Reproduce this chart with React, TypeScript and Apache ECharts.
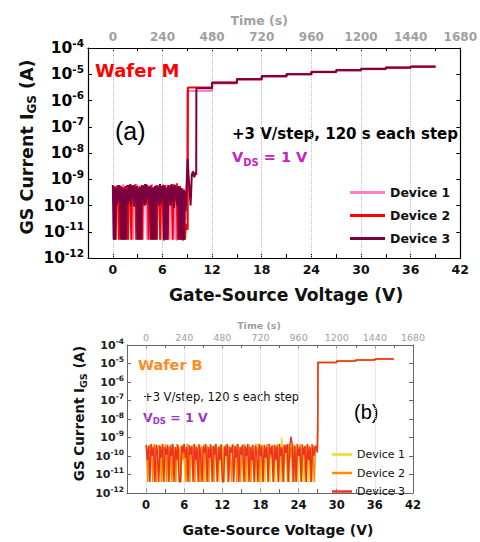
import React, { useEffect, useRef } from 'react';
import * as echarts from 'echarts';

const FONT = '"DejaVu Sans", "Liberation Sans", sans-serif';

// ---------------- Panel (a): Wafer M ----------------
const noiseVM = [
  0, 0.1, 0.2, 0.3, 0.4, 0.5, 0.6, 0.7, 0.8, 0.9,
  1, 1.1, 1.2, 1.3, 1.4, 1.5, 1.6, 1.7, 1.8, 1.9,
  2, 2.1, 2.2, 2.3, 2.4, 2.5, 2.6, 2.7, 2.8, 2.9,
  3, 3.1, 3.2, 3.3, 3.4, 3.5, 3.6, 3.7, 3.8, 3.9,
  4, 4.1, 4.2, 4.3, 4.4, 4.5, 4.6, 4.7, 4.8, 4.9,
  5, 5.1, 5.2, 5.3, 5.4, 5.5, 5.6, 5.7, 5.8, 5.9,
  6, 6.1, 6.2, 6.3, 6.4, 6.5, 6.6, 6.7, 6.8, 6.9,
  7, 7.1, 7.2, 7.3, 7.4, 7.5, 7.6, 7.7, 7.8, 7.9,
  8, 8.1, 8.2, 8.3, 8.4, 8.5, 8.6, 8.7, 8.8,
];
// sampling offset of each device's record (V)
const m1Shift = 0.05;
const m2Shift = 0.03;
const m3Shift = 0;
// noise currents in pA
const m1NoisePA = [
  500, 200, 400, 100, 600, 150, 450, 5, 550, 200,
  400, 120, 650, 5, 450, 200, 550, 100, 5, 600,
  200, 450, 150, 550, 5, 600, 200, 500, 120, 650,
  5, 500, 200, 450, 150, 600, 5, 550, 200, 500,
  150, 5, 600, 200, 500, 100, 5, 650, 150, 500,
  200, 550, 5, 450, 150, 600, 200, 5, 500, 150,
  650, 100, 550, 5, 450, 200, 600, 150, 5, 500,
  150, 550, 200, 5, 500, 100, 5, 5, 450, 150,
  500, 5, 400, 100, 5, 450, 150, 300, 200,
];
const m2NoisePA = [
  450, 150, 550, 5, 400, 100, 600, 5, 500, 150,
  550, 5, 450, 100, 5, 500, 150, 600, 5, 450,
  100, 550, 5, 600, 150, 500, 100, 650, 5, 500,
  150, 5, 550, 100, 450, 5, 600, 150, 500, 100,
  650, 120, 500, 5, 550, 150, 600, 100, 5, 450,
  200, 550, 100, 5, 500, 150, 600, 5, 450, 100,
  550, 5, 5, 600, 150, 500, 5, 450, 100, 600,
  150, 500, 5, 650, 100, 550, 150, 700, 5, 500,
  120, 550, 5, 450, 5, 5, 400, 5, 20,
];
const m3NoisePA = [
  600, 5, 450, 5, 500, 120, 550, 150, 600, 100,
  5, 500, 5, 450, 5, 550, 5, 400, 120, 600,
  150, 650, 100, 550, 200, 600, 90, 500, 150, 550,
  5, 450, 5, 500, 5, 600, 150, 550, 100, 650,
  120, 600, 200, 500, 100, 550, 5, 450, 5, 500,
  5, 550, 5, 600, 150, 500, 100, 650, 120, 550,
  200, 600, 5, 500, 5, 450, 5, 600, 150, 500,
  100, 650, 150, 550, 80, 600, 200, 500, 100, 550,
  5, 500, 5, 450, 5, 400, 5, 350, 60,
];
const m1TransV = [8.95];
const m1TransA = [3e-11];
const m1JumpV = 9.0;
const m1Levels = [2.3e-6, 4.4e-6, 6.2e-6, 8.0e-6, 9.8e-6, 1.2e-5, 1.4e-5, 1.55e-5, 1.75e-5, 1.9e-5];
const m2TransV = [8.95, 9.05];
const m2TransA = [1.5e-11, 1.2e-11];
const m2JumpV = 9.08;
const m2Levels = [3.1e-6, 4.8e-6, 6.6e-6, 8.4e-6, 1.02e-5, 1.25e-5, 1.45e-5, 1.6e-5, 1.78e-5, 1.95e-5];
const m3TransV = [8.95, 9.05, 9.15, 9.3, 9.4, 9.55, 9.7, 9.85, 10.0, 10.08];
const m3TransA = [1.2e-9, 6e-9, 1.5e-9, 3e-10, 1e-10, 1.5e-9, 2e-9, 1.2e-9, 1.8e-9, 1.5e-9];
const m3JumpV = 10.1;
const m3Levels = [2.9e-6, 4.7e-6, 6.5e-6, 8.5e-6, 1.0e-5, 1.23e-5, 1.43e-5, 1.62e-5, 1.8e-5, 1.97e-5];
const stepStartsM = [12, 15, 18, 21, 24, 27, 30, 33, 36];
const endVM = 39;

// ---------------- Panel (b): Wafer B ----------------
const noiseVB = [
  0, 0.2, 0.4, 0.6, 0.8, 1, 1.2, 1.4, 1.6, 1.8,
  2, 2.2, 2.4, 2.6, 2.8, 3, 3.2, 3.4, 3.6, 3.8,
  4, 4.2, 4.4, 4.6, 4.8, 5, 5.2, 5.4, 5.6, 5.8,
  6, 6.2, 6.4, 6.6, 6.8, 7, 7.2, 7.4, 7.6, 7.8,
  8, 8.2, 8.4, 8.6, 8.8, 9, 9.2, 9.4, 9.6, 9.8,
  10, 10.2, 10.4, 10.6, 10.8, 11, 11.2, 11.4, 11.6, 11.8,
  12, 12.2, 12.4, 12.6, 12.8, 13, 13.2, 13.4, 13.6, 13.8,
  14, 14.2, 14.4, 14.6, 14.8, 15, 15.2, 15.4, 15.6, 15.8,
  16, 16.2, 16.4, 16.6, 16.8, 17, 17.2, 17.4, 17.6, 17.8,
  18, 18.2, 18.4, 18.6, 18.8, 19, 19.2, 19.4, 19.6, 19.8,
  20, 20.2, 20.4, 20.6, 20.8, 21, 21.2, 21.4, 21.6, 21.8,
  22, 22.2, 22.4, 22.6, 22.8, 23, 23.2, 23.4, 23.6, 23.8,
  24, 24.2, 24.4, 24.6, 24.8, 25, 25.2, 25.4, 25.6, 25.8,
  26, 26.2, 26.4, 26.6, 26.8,
];
const b1Shift = 0.13;
const b2Shift = 0.07;
const b3Shift = 0;
const b1NoisePA = [
  350, 100, 4, 450, 150, 300, 4, 400, 80, 350,
  150, 4, 450, 100, 300, 4, 400, 150, 4, 350,
  450, 80, 300, 4, 400, 120, 4, 350, 100, 450,
  4, 300, 150, 400, 4, 350, 80, 450, 4, 300,
  120, 400, 4, 350, 100, 450, 4, 300, 150, 4,
  400, 80, 350, 4, 450, 120, 300, 4, 400, 100,
  350, 4, 450, 150, 4, 300, 100, 400, 4, 350,
  80, 450, 4, 300, 120, 400, 4, 350, 150, 4,
  300, 150, 4, 400, 80, 350, 4, 450, 100, 300,
  4, 400, 120, 4, 350, 150, 450, 4, 300, 80,
  400, 4, 350, 100, 450, 4, 1000, 150, 4, 400,
  80, 350, 4, 450, 120, 300, 4, 400, 100, 4,
  350, 150, 450, 4, 300, 80, 400, 4, 350, 120,
  4, 300, 150, 400, 250,
];
const b2NoisePA = [
  300, 4, 400, 120, 350, 4, 450, 80, 4, 300,
  400, 100, 4, 350, 150, 450, 4, 300, 80, 400,
  4, 350, 120, 4, 450, 100, 300, 4, 400, 60,
  350, 4, 450, 100, 4, 300, 150, 400, 4, 350,
  80, 450, 4, 300, 120, 4, 400, 100, 350, 4,
  450, 150, 300, 4, 400, 80, 4, 350, 120, 450,
  4, 300, 100, 400, 4, 350, 80, 4, 450, 150,
  300, 4, 400, 120, 4, 350, 100, 450, 4, 300,
  150, 400, 4, 350, 80, 4, 450, 120, 300, 4,
  400, 100, 4, 350, 150, 450, 4, 300, 80, 400,
  4, 350, 120, 450, 4, 300, 100, 4, 400, 150,
  350, 4, 450, 80, 300, 4, 400, 120, 4, 350,
  100, 450, 4, 300, 150, 4, 400, 80, 350, 4,
  450, 120, 4, 300, 200,
];
const b3NoisePA = [
  400, 60, 350, 4, 450, 100, 300, 4, 400, 150,
  4, 350, 80, 450, 4, 300, 120, 400, 4, 350,
  100, 450, 4, 300, 60, 400, 4, 4, 350, 150,
  450, 80, 300, 4, 400, 120, 350, 4, 450, 60,
  300, 4, 400, 100, 4, 350, 150, 450, 4, 300,
  80, 400, 4, 350, 120, 450, 4, 300, 60, 400,
  4, 4, 350, 100, 450, 4, 300, 150, 400, 4,
  350, 80, 450, 4, 300, 120, 400, 4, 350, 100,
  450, 4, 300, 60, 400, 4, 350, 150, 4, 450,
  100, 350, 4, 400, 80, 300, 4, 450, 120, 350,
  4, 400, 60, 350, 4, 450, 100, 300, 4, 400,
  150, 450, 4, 300, 1100, 400, 4, 350, 4, 450,
  100, 300, 4, 400, 120, 350, 4, 450, 60, 300,
  4, 400, 100, 350, 300,
];
const b1TransV = [26.95, 27.0];
const b1TransA = [2e-10, 1e-9];
const b2TransV = [26.95, 27.0];
const b2TransA = [3e-10, 3e-9];
const b3TransV = [26.95, 27.0];
const b3TransA = [1.5e-10, 2e-9];
const bJumpV = 27.05;
const b1Levels = [1.12e-5, 1.32e-5, 1.52e-5, 1.72e-5];
const b2Levels = [1.13e-5, 1.33e-5, 1.53e-5, 1.73e-5];
const b3Levels = [1.15e-5, 1.35e-5, 1.55e-5, 1.75e-5];
const stepStartsB = [30, 33, 36];
const endVB = 39;

// ---------------- shared ----------------
const deviceNames = ['Device 1', 'Device 2', 'Device 3'];
const colorsM = ['#ff80c8', '#ff0000', '#7a0040'];
const colorsB = ['#e8dc2a', '#ff8c00', '#ee3322'];
const gridVolts = [0, 6, 12, 18, 24, 30, 36];

function buildCurve(
  noiseV: number[], shift: number, noisePA: number[], transV: number[], transA: number[],
  jumpV: number, levels: number[], stepStarts: number[], endV: number,
) {
  const pts: number[][] = [];
  const n = Math.min(noiseV.length, noisePA.length);
  for (let i = 0; i < n; i++) pts.push([noiseV[i] + shift, noisePA[i] * 1e-12]);
  transV.forEach((v, i) => pts.push([v, transA[i]]));
  pts.push([jumpV, levels[0]]);
  stepStarts.forEach((v, i) => {
    pts.push([v, levels[i]]);
    pts.push([v, levels[i + 1]]);
  });
  pts.push([endV, levels[levels.length - 1]]);
  return pts;
}

interface PanelCfg {
  grid: { left: number; top: number; width: number; height: number };
  curves: number[][][];
  colors: string[];
  lineWidth: number;
  axisColor: string;
  axisWidth: number;
  tickColor: string;
  gridColor: string;
  xLabel: { size: number; margin: number };
  xName: { size: number; gap: number; pad: number[] };
  tLabel: { size: number; margin: number; weight: string };
  tName: { size: number; gap: number; pad: number[] };
  yLabel: { size: number; sup: number; margin: number; lh: number; color: string };
  yName: { size: number; sub: number; gap: number; pad: number[] };
  legend: { left: number; top: number; w: number; h: number; gap: number; size: number; weight: string };
  graphic: any[];
}

function makeOption(c: PanelCfg) {
  const tickLine = { color: c.tickColor, width: 1 };
  const axisLine = { onZero: false, lineStyle: { color: c.axisColor, width: c.axisWidth } };
  const yAxisBase = {
    type: 'log',
    logBase: 10,
    min: 1e-12,
    max: 1e-4,
    splitNumber: 8,
    axisLine,
    axisTick: { show: true, inside: true, length: 4, lineStyle: tickLine },
    splitLine: { show: false },
  };
  return {
    animation: false,
    textStyle: { fontFamily: FONT },
    grid: { ...c.grid, containLabel: false },
    legend: {
      data: deviceNames,
      orient: 'vertical',
      left: c.legend.left,
      top: c.legend.top,
      padding: 0,
      icon: 'rect',
      itemWidth: c.legend.w,
      itemHeight: c.legend.h,
      itemGap: c.legend.gap,
      selectedMode: false,
      textStyle: { fontFamily: FONT, fontSize: c.legend.size, fontWeight: c.legend.weight, color: '#111' },
    },
    xAxis: [
      {
        type: 'value',
        position: 'bottom',
        min: -3,
        max: 42,
        interval: 3,
        axisLine,
        axisTick: { show: true, inside: true, length: 4, lineStyle: tickLine },
        splitLine: { show: false },
        axisLabel: {
          formatter: (v: number) => (v % 6 === 0 ? String(v) : ''),
          fontFamily: FONT,
          fontSize: c.xLabel.size,
          fontWeight: 'bold',
          color: '#111',
          margin: c.xLabel.margin,
        },
        name: 'Gate-Source Voltage (V)',
        nameLocation: 'middle',
        nameGap: c.xName.gap,
        nameMoveOverlap: false,
        nameTextStyle: { fontFamily: FONT, fontSize: c.xName.size, fontWeight: 'bold', color: '#111', padding: c.xName.pad },
      },
      {
        type: 'value',
        position: 'top',
        min: -120,
        max: 1680,
        interval: 120,
        axisLine,
        axisTick: { show: true, inside: true, length: 3, lineStyle: tickLine },
        splitLine: { show: false },
        axisLabel: {
          formatter: (v: number) => (v >= 0 && v % 240 === 0 ? String(v) : ''),
          fontFamily: FONT,
          fontSize: c.tLabel.size,
          fontWeight: c.tLabel.weight,
          color: '#a0a0a0',
          margin: c.tLabel.margin,
        },
        name: 'Time (s)',
        nameLocation: 'middle',
        nameGap: c.tName.gap,
        nameMoveOverlap: false,
        nameTextStyle: { fontFamily: FONT, fontSize: c.tName.size, fontWeight: 'bold', color: '#a0a0a0', padding: c.tName.pad },
      },
    ],
    yAxis: [
      {
        ...yAxisBase,
        position: 'left',
        axisLabel: {
          margin: c.yLabel.margin,
          formatter: (v: number) => `{b|10}{s|${Math.round(Math.log10(v))}}`,
          rich: {
            b: { fontFamily: FONT, fontSize: c.yLabel.size, fontWeight: 'bold', color: c.yLabel.color, lineHeight: c.yLabel.lh },
            s: { fontFamily: FONT, fontSize: c.yLabel.sup, fontWeight: 'bold', color: c.yLabel.color, lineHeight: c.yLabel.sup + 1, verticalAlign: 'top' },
          },
        },
        name: 'GS Current I{sub|GS} (A)',
        nameLocation: 'middle',
        nameRotate: 90,
        nameGap: c.yName.gap,
        nameMoveOverlap: false,
        nameTextStyle: {
          fontFamily: FONT,
          fontSize: c.yName.size,
          fontWeight: 'bold',
          color: '#111',
          lineHeight: c.yName.size + 5,
          padding: c.yName.pad,
          rich: {
            sub: { fontFamily: FONT, fontSize: c.yName.sub, fontWeight: 'bold', color: '#111', lineHeight: c.yName.sub + 1, verticalAlign: 'bottom' },
          },
        },
      },
      {
        ...yAxisBase,
        position: 'right',
        axisLabel: { show: false },
      },
    ],
    series: c.curves.map((data, i) => ({
      type: 'line',
      name: deviceNames[i],
      xAxisIndex: 0,
      yAxisIndex: 0,
      data,
      symbol: 'none',
      color: c.colors[i],
      lineStyle: { color: c.colors[i], width: c.lineWidth },
      z: 2 + i,
      markLine: i === 0 ? {
        silent: true,
        z: 1,
        symbol: ['none', 'none'],
        label: { show: false },
        lineStyle: { type: 'dotted', color: c.gridColor, width: 1 },
        data: gridVolts.map((v) => ({ xAxis: v })),
      } : undefined,
    })),
    graphic: c.graphic,
  };
}

const optionA = makeOption({
  grid: { left: 88, top: 48, width: 378, height: 210 },
  curves: [
    buildCurve(noiseVM, m1Shift, m1NoisePA, m1TransV, m1TransA, m1JumpV, m1Levels, stepStartsM, endVM),
    buildCurve(noiseVM, m2Shift, m2NoisePA, m2TransV, m2TransA, m2JumpV, m2Levels, stepStartsM, endVM),
    buildCurve(noiseVM, m3Shift, m3NoisePA, m3TransV, m3TransA, m3JumpV, m3Levels, stepStartsM, endVM),
  ],
  colors: colorsM,
  lineWidth: 2,
  axisColor: '#000',
  axisWidth: 1.2,
  tickColor: '#000',
  gridColor: '#bdbdbd',
  xLabel: { size: 12.5, margin: 5 },
  xName: { size: 17.2, gap: 28, pad: [0, 0, 0, 24] },
  tLabel: { size: 12, margin: 5, weight: 'bold' },
  tName: { size: 12.5, gap: 21, pad: [0, 30, 0, 0] },
  yLabel: { size: 15.5, sup: 10.5, margin: 4, lh: 22, color: '#000' },
  yName: { size: 17.5, sub: 12, gap: 50, pad: [0, 0, 0, 12] },
  legend: { left: 350, top: 186, w: 35, h: 3, gap: 10, size: 12.5, weight: 'bold' },
  graphic: [
    { type: 'text', x: 95, y: 70, style: { text: 'Wafer M', fill: '#ff0000', font: `bold 18px ${FONT}`, textVerticalAlign: 'middle' } },
    { type: 'text', x: 115, y: 131, style: { text: '(a)', fill: '#000', font: `normal 25px "Liberation Sans", sans-serif`, textVerticalAlign: 'middle' } },
    { type: 'text', x: 232, y: 134, style: { text: '+3 V/step, 120 s each step', fill: '#000', font: `bold 15px ${FONT}`, textVerticalAlign: 'middle' } },
    {
      type: 'text', x: 232, y: 157,
      style: {
        text: '{v|V}{d|DS}{v| = 1 V}',
        fill: '#c81ec8',
        font: `bold 14.5px ${FONT}`,
        textVerticalAlign: 'middle',
        rich: {
          v: { fontFamily: FONT, fontSize: 14.5, fontWeight: 'bold', fill: '#c81ec8', lineHeight: 20 },
          d: { fontFamily: FONT, fontSize: 10, fontWeight: 'bold', fill: '#c81ec8', lineHeight: 12, verticalAlign: 'bottom' },
        },
      },
    },
  ],
});

const optionB = makeOption({
  grid: { left: 127, top: 35, width: 286, height: 161 },
  curves: [
    buildCurve(noiseVB, b1Shift, b1NoisePA, b1TransV, b1TransA, bJumpV, b1Levels, stepStartsB, endVB),
    buildCurve(noiseVB, b2Shift, b2NoisePA, b2TransV, b2TransA, bJumpV, b2Levels, stepStartsB, endVB),
    buildCurve(noiseVB, b3Shift, b3NoisePA, b3TransV, b3TransA, bJumpV, b3Levels, stepStartsB, endVB),
  ],
  colors: colorsB,
  lineWidth: 1.5,
  axisColor: '#666',
  axisWidth: 1,
  tickColor: '#666',
  gridColor: '#d4d4d4',
  xLabel: { size: 11.5, margin: 6 },
  xName: { size: 14, gap: 30, pad: [0, 0, 0, 16] },
  tLabel: { size: 9.5, margin: 3, weight: 'normal' },
  tName: { size: 9.5, gap: 15, pad: [0, 22, 0, 0] },
  yLabel: { size: 11, sup: 7.5, margin: 3, lh: 16, color: '#222' },
  yName: { size: 13.5, sub: 9.5, gap: 39, pad: [0, 0, 0, 11] },
  legend: { left: 332, top: 139, w: 20, h: 2.5, gap: 7.5, size: 11, weight: 'normal' },
  graphic: [
    { type: 'text', x: 138, y: 55, style: { text: 'Wafer B', fill: '#ff8a1e', font: `bold 14.5px ${FONT}`, textVerticalAlign: 'middle' } },
    { type: 'text', x: 143, y: 87, style: { text: '+3 V/step, 120 s each step', fill: '#111', font: `normal 11.5px ${FONT}`, textVerticalAlign: 'middle' } },
    {
      type: 'text', x: 143, y: 107,
      style: {
        text: '{v|V}{d|DS}{v| = 1 V}',
        fill: '#9b35c8',
        font: `bold 12.5px ${FONT}`,
        textVerticalAlign: 'middle',
        rich: {
          v: { fontFamily: FONT, fontSize: 12.5, fontWeight: 'bold', fill: '#9b35c8', lineHeight: 17 },
          d: { fontFamily: FONT, fontSize: 8.5, fontWeight: 'bold', fill: '#9b35c8', lineHeight: 10, verticalAlign: 'bottom' },
        },
      },
    },
    { type: 'text', x: 354, y: 102, style: { text: '(b)', fill: '#000', font: `normal 20px "Liberation Sans", sans-serif`, textVerticalAlign: 'middle' } },
  ],
});

function Panel({ option, top, height }: { option: any; top: number; height: number }) {
  const ref = useRef<HTMLDivElement>(null);
  useEffect(() => {
    if (!ref.current) return;
    const chart = echarts.init(ref.current, null, { renderer: 'svg' });
    chart.setOption(option);
    return () => chart.dispose();
  }, [option]);
  return <div ref={ref} style={{ position: 'absolute', left: 0, top, width: 480, height }} />;
}

export default function App() {
  return (
    <div style={{ position: 'absolute', left: 0, top: 0, width: 480, height: 542, background: '#fff' }}>
      <Panel option={optionA} top={0} height={310} />
      <Panel option={optionB} top={310} height={232} />
    </div>
  );
}
